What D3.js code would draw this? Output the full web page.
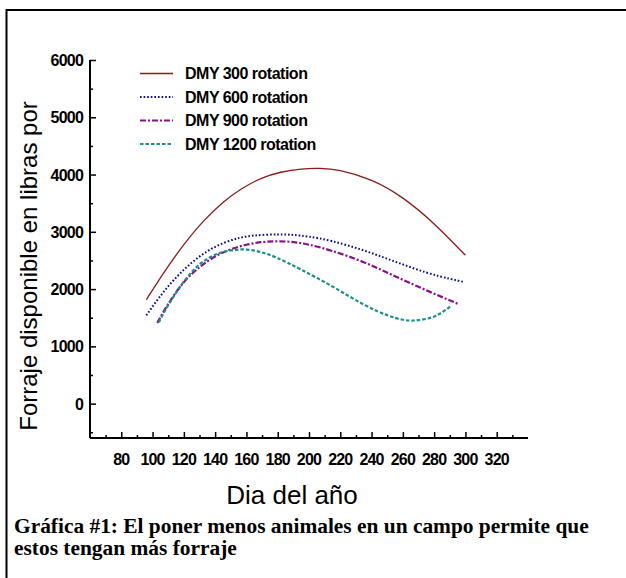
<!DOCTYPE html>
<html>
<head>
<meta charset="utf-8">
<script src="https://cdn.jsdelivr.net/npm/d3@7"></script>
<style>
  body { margin: 0; background: #fff; }
  svg { display: block; }
</style>
</head>
<body>
<div id="chart"></div>
<script>
// Size of the picture
var width = 626;
var height = 578;

// Series (day of year, forage in lb)
var days300 = [96, 108, 120, 132, 145, 157, 170, 182, 195, 207, 220, 240, 260, 280, 300];
var vals300 = [1815, 2319, 2775, 3170, 3512, 3753, 3937, 4040, 4096, 4106, 4068, 3898, 3588, 3138, 2590];

var days600 = [96, 105, 115, 125, 135, 145, 155, 165, 180, 190, 200, 215, 235, 255, 275, 290, 299];
var vals600 = [1540, 1880, 2200, 2460, 2660, 2800, 2890, 2935, 2955, 2945, 2915, 2835, 2675, 2480, 2290, 2180, 2125];

var days900 = [103, 110, 120, 130, 140, 150, 160, 170, 180, 190, 200, 215, 235, 255, 275, 295];
var vals900 = [1410, 1740, 2120, 2380, 2570, 2695, 2775, 2820, 2835, 2820, 2775, 2665, 2470, 2225, 1980, 1745];

var days1200 = [104, 110, 120, 130, 140, 150, 160, 170, 180, 195, 215, 235, 250, 260, 267, 275, 283, 291];
var vals1200 = [1420, 1720, 2130, 2430, 2600, 2675, 2690, 2640, 2540, 2340, 2045, 1730, 1545, 1465, 1452, 1480, 1560, 1710];

var seriesNames = ["DMY 300 rotation", "DMY 600 rotation", "DMY 900 rotation", "DMY 1200 rotation"];

// Tick labels
var xTicks = [80, 100, 120, 140, 160, 180, 200, 220, 240, 260, 280, 300, 320];
var yTicks = [0, 1000, 2000, 3000, 4000, 5000, 6000];

var yTitle = "Forraje disponible en libras por";
var xTitle = "Dia del año";
var caption1 = "Gráfica #1: El poner menos animales en un campo permite que";
var caption2 = "estos tengan más forraje";

// Line styles per series
var styles = [
    { color: "#8b1a1a", width: 1.3, dash: null },
    { color: "#0a0a8c", width: 2, dash: "1.6,2" },
    { color: "#8a108a", width: 2.2, dash: "6,2,2,2" },
    { color: "#1a8f8f", width: 2.2, dash: "3.5,2" }
];

var svg = d3.select("#chart")
    .append("svg")
    .attr("width", width)
    .attr("height", height);

// Frame of the figure box (clipped by the picture on the right and bottom)
svg.append("path")
    .attr("d", "M6.5,640 L6.5,10 L700,10")
    .attr("fill", "none")
    .attr("stroke", "#000")
    .attr("stroke-width", 2);

var x = d3.scaleLinear().domain([60, 340]).range([90, 528]);
var y = d3.scaleLinear().domain([-600, 6000]).range([438, 60]);

// Axes: ticks point inward
var xAxis = d3.axisTop(x)
    .tickValues(d3.range(70, 340, 10))
    .tickSize(6)
    .tickFormat("");
var gx = svg.append("g")
    .attr("transform", "translate(0," + y(-600) + ")")
    .call(xAxis);
gx.selectAll(".tick line")
    .attr("y2", function(d) { return d % 20 === 0 ? -6 : -3; });

var yAxis = d3.axisRight(y)
    .tickValues(d3.range(-500, 6001, 500))
    .tickSize(6)
    .tickFormat("");
var gy = svg.append("g")
    .attr("transform", "translate(" + x(60) + ",0)")
    .call(yAxis);
gy.selectAll(".tick line")
    .attr("x2", function(d) { return d % 1000 === 0 ? 6 : 3; });

svg.selectAll(".domain")
    .attr("stroke", "#000")
    .attr("stroke-width", 2);
svg.selectAll(".tick line")
    .attr("stroke", "#000")
    .attr("stroke-width", 1.5);

// Plain domain lines, no end caps
gx.select(".domain").attr("d", "M" + x(60) + ",0H" + x(340));
gy.select(".domain").attr("d", "M0," + y(6000) + "V" + y(-600));

// Tick labels
svg.append("g").selectAll("text")
    .data(xTicks)
    .enter()
    .append("text")
    .attr("x", function(d) { return x(d); })
    .attr("y", 465)
    .attr("text-anchor", "middle")
    .style("font-family", "'Liberation Sans', Arial, sans-serif")
    .style("font-weight", "bold")
    .style("font-size", "16px")
    .style("letter-spacing", "-0.8px")
    .text(function(d) { return d; });

svg.append("g").selectAll("text")
    .data(yTicks)
    .enter()
    .append("text")
    .attr("x", 83)
    .attr("y", function(d) { return y(d) + 6; })
    .attr("text-anchor", "end")
    .style("font-family", "'Liberation Sans', Arial, sans-serif")
    .style("font-weight", "bold")
    .style("font-size", "16px")
    .style("letter-spacing", "-0.8px")
    .text(function(d) { return d; });

// Curves
var allDays = [days300, days600, days900, days1200];
var allVals = [vals300, vals600, vals900, vals1200];

var line = d3.line()
    .x(function(d) { return x(d[0]); })
    .y(function(d) { return y(d[1]); })
    .curve(d3.curveNatural);

allDays.forEach(function(ds, i) {
    var pts = ds.map(function(d, j) { return [d, allVals[i][j]]; });
    svg.append("path")
        .datum(pts)
        .attr("d", line)
        .attr("fill", "none")
        .attr("stroke", styles[i].color)
        .attr("stroke-width", styles[i].width)
        .attr("stroke-dasharray", styles[i].dash);
});

// Legend
var legend = svg.append("g");
seriesNames.forEach(function(name, i) {
    var ly = 73.5 + i * 23.5;
    legend.append("line")
        .attr("x1", 140)
        .attr("x2", 173)
        .attr("y1", ly)
        .attr("y2", ly)
        .attr("stroke", styles[i].color)
        .attr("stroke-width", styles[i].width)
        .attr("stroke-dasharray", styles[i].dash);
    legend.append("text")
        .attr("x", 185)
        .attr("y", ly + 5.5)
        .style("font-family", "'Liberation Sans', Arial, sans-serif")
        .style("font-weight", "bold")
        .style("font-size", "16px")
        .style("letter-spacing", "-0.5px")
        .text(name);
});

// Axis titles
svg.append("text")
    .attr("transform", "translate(37," + 266 + ") rotate(-90)")
    .attr("text-anchor", "middle")
    .style("font-family", "'Liberation Sans', Arial, sans-serif")
    .style("font-size", "24px")
    .text(yTitle);

svg.append("text")
    .attr("x", 292)
    .attr("y", 504)
    .attr("text-anchor", "middle")
    .style("font-family", "'Liberation Sans', Arial, sans-serif")
    .style("font-size", "26px")
    .text(xTitle);

// Caption below the chart
svg.append("text")
    .attr("x", 14)
    .attr("y", 533)
    .style("font-family", "'Liberation Serif', 'Times New Roman', serif")
    .style("font-weight", "bold")
    .style("font-size", "21.4px")
    .text(caption1);

svg.append("text")
    .attr("x", 14)
    .attr("y", 555)
    .style("font-family", "'Liberation Serif', 'Times New Roman', serif")
    .style("font-weight", "bold")
    .style("font-size", "21.4px")
    .text(caption2);
</script>
</body>
</html>
